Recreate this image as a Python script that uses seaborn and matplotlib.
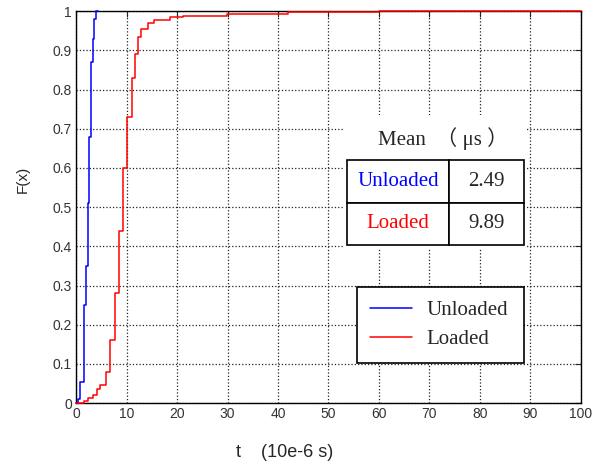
import matplotlib
matplotlib.use("Agg")
import matplotlib.pyplot as plt
import seaborn as sns
import pandas as pd
from matplotlib.patches import Rectangle

# step CDF values
unloaded_t = [0, 0.3, 0.8, 1.5, 1.9, 2.3, 2.6, 2.9, 3.3, 3.5, 4.0, 4.4]
unloaded_f = [0, 0.01, 0.055, 0.25, 0.35, 0.51, 0.68, 0.87, 0.93, 0.98, 1.0, 1.0]

loaded_t = [0, 1.5, 2.4, 3.4, 4.1, 4.8, 5.9, 6.8, 7.6, 8.4, 9.3, 10.0, 11.0,
            11.7, 12.3, 12.8, 14.2, 15.5, 18.6, 21.2, 29.9, 42, 60, 100]
loaded_f = [0, 0.005, 0.012, 0.02, 0.035, 0.045, 0.08, 0.16, 0.28, 0.44, 0.60,
            0.73, 0.83, 0.89, 0.935, 0.955, 0.97, 0.977, 0.984, 0.988, 0.992,
            0.997, 1.0, 1.0]

series_names = ["Unloaded", "Loaded"]
mean_values = ["2.49", "9.89"]
x_ticks = list(range(0, 101, 10))
y_ticks = [i / 10 for i in range(11)]
y_tick_labels = ["0"] + [f"{v:.1f}" for v in y_ticks[1:-1]] + ["1"]

df = pd.concat([
    pd.DataFrame({"t": unloaded_t, "F": unloaded_f, "load": "Unloaded"}),
    pd.DataFrame({"t": loaded_t, "F": loaded_f, "load": "Loaded"}),
])

sns.set_style("white")
serif = ["Liberation Serif", "Noto Sans CJK SC", "DejaVu Sans"]
colors = {"Unloaded": "#0000ff", "Loaded": "#ff0000"}

fig = plt.figure(figsize=(5.95, 4.66), dpi=100)
ax = fig.add_axes([0.128, 0.135, 0.848, 0.841])

sns.lineplot(data=df, x="t", y="F", hue="load", hue_order=series_names,
             palette=colors, estimator=None, drawstyle="steps-post",
             linewidth=1.1, clip_on=False, zorder=3, ax=ax)

ax.set_xlim(0, 100)
ax.set_ylim(0, 1)
ax.set_xticks(x_ticks)
ax.set_yticks(y_ticks)
ax.set_yticklabels(y_tick_labels)
ax.tick_params(direction="in", length=4, top=True, right=True,
               labelsize=10, labelcolor="#333333", pad=3)
for lab in ax.get_xticklabels() + ax.get_yticklabels():
    lab.set_fontfamily("Liberation Sans")
ax.set_axisbelow(True)
ax.grid(True, linestyle=":", color="#222222", linewidth=0.9)
for s in ax.spines.values():
    s.set_color("black")
    s.set_linewidth(1)

ax.set_xlabel("")
ax.set_ylabel("")
ax.text(-0.105, 0.571, "F(x)", transform=ax.transAxes, rotation=90,
        ha="center", va="center", fontsize=11, family="Liberation Sans")
ax.text(0.414, -0.125, "t    (10e-6 s)", transform=ax.transAxes,
        ha="center", va="center", fontsize=13, family="Liberation Sans")

# white panel behind the mean table
ax.add_patch(Rectangle((0.529, 0.395), 0.364, 0.339, transform=ax.transAxes,
                       facecolor="white", edgecolor="none", zorder=1))
ax.text(0.727, 0.676, "Mean  （ μs ）", transform=ax.transAxes,
        ha="center", va="center", fontsize=15, family=serif, zorder=3)

tbl = ax.table(cellText=[[n, m] for n, m in zip(series_names, mean_values)],
               cellLoc="center", bbox=[0.537, 0.403, 0.350, 0.217],
               colWidths=[0.576, 0.424])
tbl.auto_set_font_size(False)
tbl.set_fontsize(15)
tbl.set_zorder(3)
for (r, c), cell in tbl.get_celld().items():
    cell.set_edgecolor("black")
    cell.set_linewidth(1.2)
    txt = cell.get_text()
    txt.set_fontfamily(serif)
    if c == 0:
        txt.set_color(colors[series_names[r]])

leg = ax.legend(loc="upper left", bbox_to_anchor=(0.556, 0.115, 0.331, 0.181),
                mode="expand", prop={"family": serif, "size": 15},
                frameon=True, fancybox=False, edgecolor="black", framealpha=1,
                handlelength=2.0, handletextpad=0.7, labelspacing=0.45,
                borderpad=0.65, borderaxespad=0)
leg.get_frame().set_linewidth(1.2)
leg.set_zorder(4)

fig.savefig("out.png", dpi=100)
